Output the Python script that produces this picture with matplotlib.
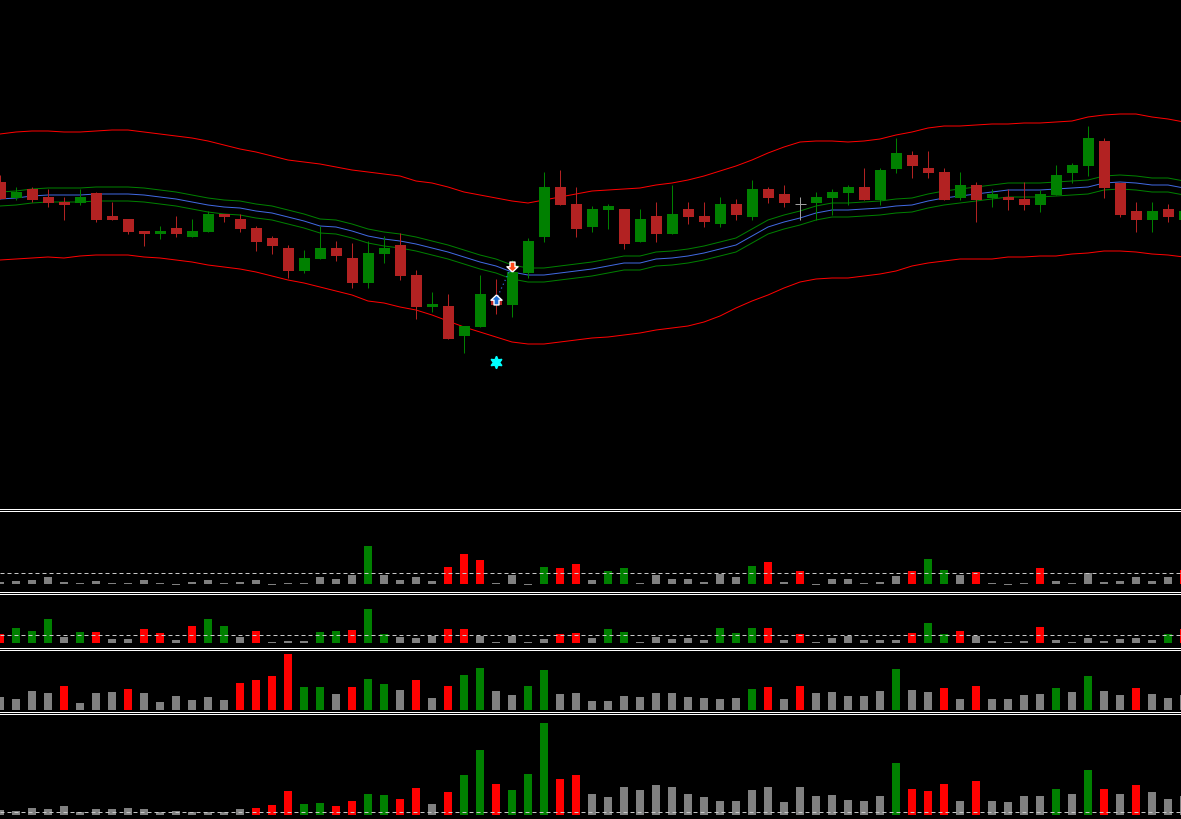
import matplotlib
matplotlib.use('Agg')
import matplotlib.pyplot as plt
import numpy as np

# ---------------- data ----------------
opens = [217,201,210,202,197,196,206,183,180,168, 165.5,171,162,167,185,180,171,161,151,128,
         140,151,141,116,145,154,124,92,93,63, 72,100,94,126,162,212,195,172,189,190,
         157,183,165,190,183,175,195,182,210,205, 195,196,201,206,212,199,230,244,231,227,
         201,214,201,202,200,194,204,226,233,258, 216,188,179,190,179]
highs = [224,212,212,210,202,210,207,197,180,168, 173,183,180,188,185,185,173,163,154,149,
         173,158,156,158,163,166,129,107,105,73, 124,120,139,161,227,229,212,193,195,190,
         190,197,214,197,197,202,200,219,212,214, 202,207,210,214,231,231,261,248,248,231,
         227,217,210,210,217,209,234,236,273,261, 216,197,197,195,193]
lows = [200,199,197,192,179,194,177,179,165,153, 160,162,162,167,177,167,148,145,121,126,
        140,138,111,111,136,119,80,87,60,46, 72,85,82,121,157,194,162,167,170,150,
        157,157,165,175,172,172,179,179,196,192, 179,179,184,194,199,194,226,221,221,199,
        199,177,192,189,189,187,204,216,223,201, 182,167,167,177,175]
closes = [200,207,199,196,194.5,202,179,179.5,167,165.5, 168,165,168,185,182,170,157,153,128,141,
          151,143,116,146,151,123,92,95,60,73, 105,94,127,158,212,194,170,190,193,155,
          180,165,185,182,177,195,184,210,201,196, 195,202,207,212,199,229,246,233,226,199,
          214,199,205,199,194,205,224,234,261,211, 184,179,188,182,188]

band_upper = [265,267,268,268,267,267,268,269,269,267, 265,263,261,258,254,250,247,243,239,237,
              235,232,229,227,225,223,218,216,212,207, 204,201,198,196,199,202,205,208,209,210,
              211,214,216,219,223,228,233,239,246,252, 257,258,258,257,258,260,264,267,271,273,
              273,274,275,275,276,276,277,278,282,284, 285,285,282,280,277]
band_lower = [139,140,141,142,141,143,144,144,144,142, 141,139,137,134,132,130,127,123,119,116,
              112,108,104,98,96,92,89,84,78,72, 67,62,57,55,55,57,59,61,62,64,
              66,69,71,73,77,83,91,98,104,111, 117,120,121,121,123,125,128,133,136,138,
              140,140,140,142,142,143,143,145,146,148, 148,147,145,144,142]
mid_line = [200,201,203,204,204,204,205,205,205,204, 202,200,197,194,192,191,188,186,182,178,
            173,172,168,163,160,158,155,151,147,142, 137,133,127,124,124,126,128,130,133,136,
            136,140,141,143,146,150,154,163,172,177, 181,186,189,189,190,191,193,194,198,201,
            203,205,207,209,209,209,210,211,212,216, 217,216,214,214,211]
inner_upper = [207,208,210,211,211,211,212,212,212,211, 209,207,204,201,199,198,195,193,189,185,
               180,179,175,170,167,165,162,158,154,149, 144,140,134,131,131,133,135,137,140,143,
               143,147,148,150,153,157,161,170,179,184, 188,193,196,196,197,198,200,201,205,208,
               210,212,214,216,216,216,217,218,219,223, 224,223,221,221,218]
inner_lower = [193,194,196,197,197,197,198,198,198,197, 195,193,190,187,185,184,181,179,175,171,
               166,165,161,156,153,151,148,144,140,135, 130,126,120,117,117,119,121,123,126,129,
               129,133,134,136,139,143,147,156,165,170, 174,179,182,182,183,184,186,187,191,194,
               196,198,200,202,202,202,203,204,205,209, 210,209,207,207,204]

# trade markers
trade_bars = [31, 32]
trade_prices = [99, 133.5]
signal_bar = 31
signal_price = 37.5

# sub-panels
p1_vals = [2,3,4,7,2,1,3,1,1,4, 1,-1,2,4,1,2,4,-1,1,1, 7,5,9,38,9,4,7,3,17,30,
           24,1,9,-1,17,16,20,4,13,16, 1,9,5,5,2,10,7,18,22,2, 13,-1,5,5,1,2,8,13,25,14,
           9,12,1,-1,1,16,3,1,11,2, 3,7,3,7,14]
p1_cls = "xxxxxxxxxx" "xxxxxxxxxx" "xxxgxxxxrr" "rxxxgrrxgg" "xxxxxxxgrx" "rxxxxxxrgg" "xrxxxrxxxx" "xxxxr"
p1_level = 10.7

p2_vals = [9,15,12,24,6,11,11,4,4,14, 10,3,17,24,17,6,12,1,2,2, 11,12,13,34,9,6,5,7,14,14,
           7,1,7,1,4,9,10,5,14,11, 1,6,4,5,3,15,10,15,15,3, 9,1,5,7,3,3,3,10,20,9,
           12,7,2,1,2,16,3,1,5,2, 4,5,3,9,14]
p2_cls = "rgggxgrxxr" "rxrggxrxxx" "ggrggxxxrr" "xxxxxrrxgg" "xxxxxgggrx" "rxxxxxxrgg" "rxxxxrxxxx" "xxxgr"
p2_level = 7.7

p3_vals = [13,11,19,17,24,7,17,18,21,17, 8,14,10,13,10,27,30,34,56,23, 23,16,23,31,26,20,30,12,24,35,
           42,19,15,24,40,16,17,9,9,14, 13,17,17,13,12,11,12,21,23,11, 24,17,18,14,14,19,41,20,18,22,
           11,24,11,11,15,16,22,18,34,19, 15,22,16,12,15]
p3_cls = "xxxxrxxxrx" "xxxxxrrrrg" "gxrggxrxrg" "gxxggxxxxx" "xxxxxxxgrx" "rxxxxxgxxr" "xrxxxxgxgx" "xrxxx"

p4_vals = [5,4,7,6,9,3,6,6,7,6, 3,4,3,3,3,6,7,10,24,11, 12,9,14,21,20,16,27,11,23,40,
           65,31,25,41,92,36,40,21,18,28, 25,30,28,21,18,14,14,25,28,13, 28,19,20,15,14,19,52,26,24,31,
           14,34,14,13,19,19,26,21,45,26, 21,30,23,16,19]
p4_cls = "xxxxxxxxxx" "xxxxxxrrrg" "grrggrrxrg" "grgggrrxxx" "xxxxxxxxxx" "xxxxxxgrrr" "xrxxxxgxgr" "xrxxx"
p4_level = 2.7

# ---------------- style ----------------
W, H = 1181, 820
PX = 72 / 100.0  # one pixel in points
BAR_STEP = 16
CANDLE_UP = '#008000'
CANDLE_DN = '#b22222'
CANDLE_DOJI = '#a0a0a0'
HIST = {'x': '#808080', 'r': '#ff0000', 'g': '#008000'}

fig = plt.figure(figsize=(W / 100, H / 100), dpi=100, facecolor='black')


def add_ax(top_px, bottom_px):
    ax = fig.add_axes([0, 1 - bottom_px / H, 1, (bottom_px - top_px) / H])
    ax.set_facecolor('black')
    ax.set_xlim(0, W / BAR_STEP)
    ax.set_xticks([])
    ax.set_yticks([])
    for s in ax.spines.values():
        s.set_visible(False)
    return ax


n = len(opens)
x = np.arange(n)

# ---------------- main price panel ----------------
ax = add_ax(0, 509.5)
ax.set_ylim(-109.5, 400)
ax.spines['bottom'].set_visible(True)
ax.spines['bottom'].set_color('white')
ax.spines['bottom'].set_linewidth(PX)

ax.plot(x, band_upper, color='#ff0000', lw=PX, zorder=2)
ax.plot(x, band_lower, color='#ff0000', lw=PX, zorder=2)
ax.plot(x, inner_upper, color='#008000', lw=PX, zorder=2)
ax.plot(x, inner_lower, color='#008000', lw=PX, zorder=2)
ax.plot(x, mid_line, color='#4169e1', lw=PX, zorder=2)

o = np.array(opens, float)
c = np.array(closes, float)
hi = np.array(highs, float)
lo = np.array(lows, float)
cols = np.where(c > o, CANDLE_UP, np.where(c < o, CANDLE_DN, CANDLE_DOJI))
ax.vlines(x, lo, hi, colors=cols, lw=PX, zorder=3)
body_h = np.maximum(np.abs(c - o), 1.0)
body_b = np.minimum(o, c)
mask = c != o
ax.bar(x[mask], body_h[mask], bottom=body_b[mask], width=11 / 16, color=cols[mask],
       linewidth=0, zorder=4)
dj = ~mask
ax.hlines(c[dj], x[dj] - 5.5 / 16, x[dj] + 5.5 / 16, colors=cols[dj], lw=PX, zorder=4)

# trade line and arrows
ax.plot(trade_bars, trade_prices, color='#2f6fdc', lw=PX * 1.2, ls=(0, (1, 2.5)), zorder=5)
up_arrow = [(0, 1), (1, 0.05), (0.45, 0.05), (0.45, -0.8), (-0.45, -0.8), (-0.45, 0.05), (-1, 0.05), (0, 1)]
dn_arrow = [(px, -py) for px, py in up_arrow]
ax.plot(trade_bars[0], trade_prices[0], marker=up_arrow, ms=8, mfc='#1f6fd6', mec='white',
        mew=1.0, ls='none', zorder=6)
ax.plot(trade_bars[1], trade_prices[1], marker=dn_arrow, ms=8, mfc='#ff4a1a', mec='white',
        mew=1.0, ls='none', zorder=6)
ax.plot(signal_bar, signal_price, marker=(6, 1, 0), ms=9, color='#00ffff', mec='#00ffff',
        ls='none', zorder=6)


# ---------------- histogram panels ----------------
def hist_panel(top_px, bottom_px, ylim, vals, cls, level=None, show_bottom=True):
    a = add_ax(top_px, bottom_px)
    a.set_ylim(*ylim)
    a.spines['top'].set_visible(True)
    a.spines['top'].set_color('white')
    a.spines['top'].set_linewidth(PX)
    if show_bottom:
        a.spines['bottom'].set_visible(True)
        a.spines['bottom'].set_color('white')
        a.spines['bottom'].set_linewidth(PX)
    a.bar(np.arange(len(vals)), vals, width=0.5, color=[HIST[k] for k in cls], linewidth=0,
          zorder=2)
    if level is not None:
        a.axhline(level, color='#c8c8c8', lw=PX, ls=(0, (4, 3)), zorder=3)
    return a


hist_panel(511.5, 592.5, (-7.5, 73.5), p1_vals, p1_cls, p1_level)
hist_panel(594.5, 648.5, (-4.5, 49.5), p2_vals, p2_cls, p2_level)
hist_panel(650.5, 713, (-2, 60.5), p3_vals, p3_cls)
hist_panel(715, 820, (-4, 101), p4_vals, p4_cls, p4_level, show_bottom=False)

fig.savefig('out.png', dpi=100, facecolor='black')
